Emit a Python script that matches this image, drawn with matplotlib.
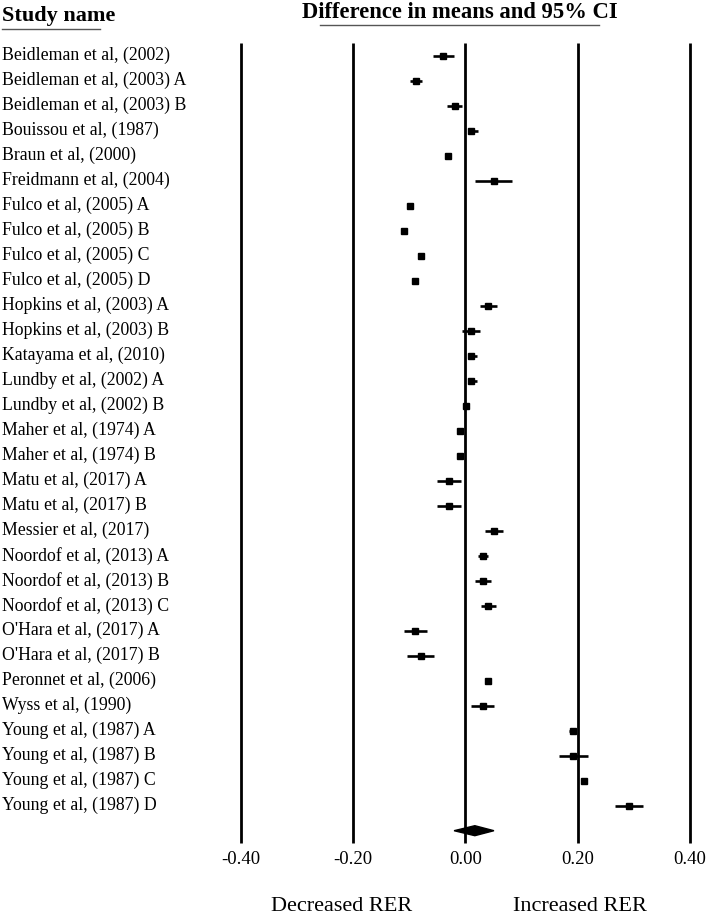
import matplotlib
matplotlib.use("Agg")
import matplotlib.pyplot as plt
from matplotlib.patches import Polygon
import numpy as np

studies = [
    "Beidleman et al, (2002)", "Beidleman et al, (2003) A", "Beidleman et al, (2003) B",
    "Bouissou et al, (1987)", "Braun et al, (2000)", "Freidmann et al, (2004)",
    "Fulco et al, (2005) A", "Fulco et al, (2005) B", "Fulco et al, (2005) C",
    "Fulco et al, (2005) D", "Hopkins et al, (2003) A", "Hopkins et al, (2003) B",
    "Katayama et al, (2010)", "Lundby et al, (2002) A", "Lundby et al, (2002) B",
    "Maher et al, (1974) A", "Maher et al, (1974) B", "Matu et al, (2017) A",
    "Matu et al, (2017) B", "Messier et al, (2017)", "Noordof et al, (2013) A",
    "Noordof et al, (2013) B", "Noordof et al, (2013) C", "O'Hara et al, (2017) A",
    "O'Hara et al, (2017) B", "Peronnet et al, (2006)", "Wyss et al, (1990)",
    "Young et al, (1987) A", "Young et al, (1987) B", "Young et al, (1987) C",
    "Young et al, (1987) D",
]
means = [-0.039, -0.088, -0.018, 0.011, -0.030, 0.051, -0.099, -0.109, -0.079, -0.089,
         0.041, 0.011, 0.011, 0.011, 0.001, -0.009, -0.009, -0.029, -0.029, 0.051,
         0.031, 0.031, 0.041, -0.089, -0.079, 0.041, 0.031, 0.191, 0.191, 0.211, 0.292]
lower = [-0.057, -0.099, -0.033, 0.004, -0.033, 0.018, -0.102, -0.112, -0.082, -0.092,
         0.026, -0.005, 0.004, 0.004, -0.004, -0.012, -0.012, -0.050, -0.050, 0.035,
         0.023, 0.017, 0.028, -0.109, -0.103, 0.038, 0.011, 0.184, 0.166, 0.208, 0.267]
upper = [-0.021, -0.078, -0.005, 0.022, -0.027, 0.084, -0.096, -0.106, -0.076, -0.086,
         0.056, 0.026, 0.021, 0.020, 0.006, -0.006, -0.006, -0.007, -0.007, 0.068,
         0.040, 0.045, 0.055, -0.069, -0.055, 0.044, 0.051, 0.198, 0.218, 0.214, 0.316]
summary_mean = 0.017
summary_lower = -0.020
summary_upper = 0.051
ticks = [-0.40, -0.20, 0.00, 0.20, 0.40]
tick_labels = ["-0.40", "-0.20", "0.00", "0.20", "0.40"]

W, H = 709, 915
fig = plt.figure(figsize=(W / 100, H / 100), dpi=100)
ax = fig.add_axes([0, 0, 1, 1])
# pixel mapping: x=0 at 465.3px, 561.5 px per unit; row 0 at 55.7px, 25 px per row
x0, sx = 465.3, 561.5
y0, sy = 55.7, 25.0
ax.set_xlim(-x0 / sx, (W - x0) / sx)
ax.set_ylim((H - y0) / sy, -y0 / sy)
ax.axis("off")

serif = ["Liberation Serif", "DejaVu Serif"]
n = len(studies)
rows = np.arange(n)

# vertical reference lines
for t in ticks:
    ax.plot([t, t], [-0.5, n + 0.48], color="black", lw=2.0, solid_capstyle="butt", zorder=1)

# CIs and points
ax.hlines(rows, lower, upper, color="black", lw=1.9, zorder=2)
ax.plot(means, rows, "s", color="black", ms=4.6, zorder=3)

# summary diamond
ysum = n
dh = 0.2
diamond = Polygon([[summary_lower, ysum], [summary_mean, ysum - dh],
                   [summary_upper, ysum], [summary_mean, ysum + dh]],
                  closed=True, color="black", zorder=3)
ax.add_patch(diamond)

# tick labels
for t, lab in zip(ticks, tick_labels):
    ax.text(t, n + 1.17, lab, ha="center", va="center", fontsize=13.5, family=serif)

# study labels
for i, s in enumerate(studies):
    ax.text(2 / W, i, s, transform=ax.get_yaxis_transform(), ha="left", va="center",
            fontsize=12.8, family=serif)

# headers
fig.text(2 / W, 1 - 16 / H, "Study name", ha="left", va="center", fontsize=16,
         fontweight="bold", family=serif)
fig.text(460 / W, 1 - 13 / H, "Difference in means and 95% CI", ha="center", va="center",
         fontsize=16.3, fontweight="bold", family=serif)
fig.add_artist(plt.Line2D([2 / W, 100 / W], [1 - 28.5 / H, 1 - 28.5 / H], color="#555555", lw=1))
fig.add_artist(plt.Line2D([320 / W, 599 / W], [1 - 24.5 / H, 1 - 24.5 / H], color="#555555", lw=1))

# bottom labels
ax.text(-0.220, n + 3.04, "Decreased RER", ha="center", va="center", fontsize=16, family=serif)
ax.text(0.204, n + 3.04, "Increased RER", ha="center", va="center", fontsize=16, family=serif)

fig.savefig("out.png", dpi=100)
